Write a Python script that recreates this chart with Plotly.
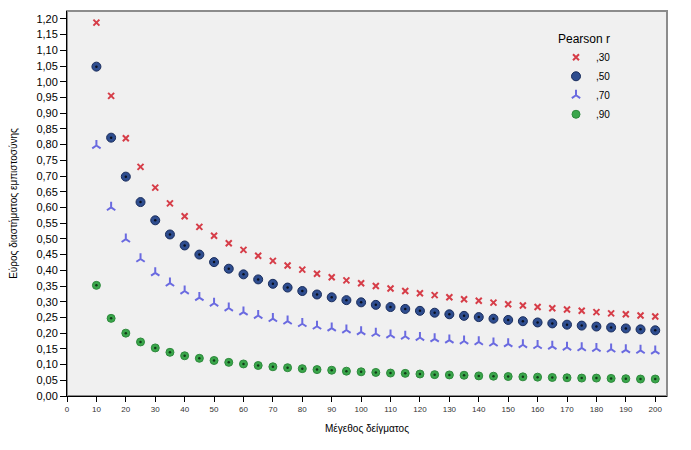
import plotly.graph_objects as go

sample_size = [10, 15, 20, 25, 30, 35, 40, 45, 50, 55, 60, 65, 70, 75, 80, 85, 90, 95, 100,
               105, 110, 115, 120, 125, 130, 135, 140, 145, 150, 155, 160, 165, 170, 175,
               180, 185, 190, 195, 200]

width_r30 = [1.188, 0.955, 0.820, 0.729, 0.663, 0.613, 0.572, 0.538, 0.510, 0.486, 0.465,
             0.446, 0.430, 0.415, 0.402, 0.389, 0.378, 0.368, 0.359, 0.350, 0.342, 0.334,
             0.327, 0.321, 0.314, 0.308, 0.303, 0.297, 0.292, 0.288, 0.283, 0.279, 0.275,
             0.271, 0.267, 0.263, 0.260, 0.256, 0.253]
width_r50 = [1.048, 0.822, 0.698, 0.617, 0.559, 0.514, 0.479, 0.450, 0.426, 0.405, 0.387,
             0.371, 0.357, 0.345, 0.334, 0.323, 0.314, 0.305, 0.298, 0.290, 0.283, 0.277,
             0.271, 0.265, 0.260, 0.255, 0.251, 0.246, 0.242, 0.238, 0.234, 0.231, 0.227,
             0.224, 0.221, 0.218, 0.215, 0.212, 0.209]
width_r70 = [0.797, 0.600, 0.499, 0.436, 0.392, 0.359, 0.334, 0.313, 0.295, 0.280, 0.267,
             0.256, 0.246, 0.238, 0.230, 0.222, 0.216, 0.210, 0.204, 0.199, 0.194, 0.190,
             0.186, 0.182, 0.178, 0.175, 0.172, 0.168, 0.166, 0.163, 0.160, 0.158, 0.155,
             0.153, 0.151, 0.149, 0.147, 0.145, 0.143]
width_r90 = [0.352, 0.247, 0.200, 0.172, 0.153, 0.139, 0.128, 0.120, 0.113, 0.107, 0.102,
             0.097, 0.093, 0.090, 0.087, 0.084, 0.082, 0.079, 0.077, 0.075, 0.073, 0.072,
             0.070, 0.068, 0.067, 0.066, 0.064, 0.063, 0.062, 0.061, 0.060, 0.059, 0.058,
             0.057, 0.057, 0.056, 0.055, 0.054, 0.054]

series_names = [",30", ",50", ",70", ",90"]
x_ticks = list(range(0, 201, 10))
y_ticks = [i * 0.05 for i in range(25)]

FONT = "Liberation Sans, Arial, sans-serif"

fig = go.Figure()
fig.add_trace(go.Scatter(
    x=sample_size, y=width_r30, mode="markers", name=series_names[0],
    marker=dict(symbol="x-thin", size=6, color="#d63d48",
                line=dict(color="#d63d48", width=2))))
fig.add_trace(go.Scatter(
    x=sample_size, y=width_r50, mode="markers", name=series_names[1],
    marker=dict(symbol="circle", size=9, color="#2e4d8f",
                line=dict(color="#1a2d5c", width=1))))
fig.add_trace(go.Scatter(
    x=sample_size, y=width_r50, mode="markers", showlegend=False, hoverinfo="skip",
    marker=dict(symbol="circle", size=2.5, color="#0a0f1e", line=dict(width=0))))
fig.add_trace(go.Scatter(
    x=sample_size, y=width_r70, mode="markers", name=series_names[2],
    marker=dict(symbol="y-up", size=7, color="#6a6ae0",
                line=dict(color="#6a6ae0", width=2))))
fig.add_trace(go.Scatter(
    x=sample_size, y=width_r90, mode="markers", name=series_names[3],
    marker=dict(symbol="circle", size=8, color="#3aa64b",
                line=dict(color="#2f8a3d", width=1))))
fig.add_trace(go.Scatter(
    x=sample_size, y=width_r90, mode="markers", showlegend=False, hoverinfo="skip",
    marker=dict(symbol="circle", size=2.5, color="#123a18", line=dict(width=0))))

fig.update_layout(
    width=683, height=442,
    margin=dict(l=59, r=24, t=3, b=54),
    paper_bgcolor="white",
    plot_bgcolor="#f0f0f0",
    separators=", ",
    font=dict(family=FONT, size=11, color="#000000"),
    showlegend=True,
    legend=dict(
        title=dict(text="Pearson r", font=dict(size=12), side="top"),
        x=0.815, y=0.958, xanchor="left", yanchor="top",
        bgcolor="rgba(0,0,0,0)", font=dict(size=10),
        itemwidth=30, tracegroupgap=0,
    ),
    shapes=[dict(type="rect", xref="paper", yref="paper", x0=0, y0=0, x1=1, y1=1,
                 line=dict(color="#8c8c8c", width=2), layer="below")],
)

fig.update_xaxes(
    range=[0, 204], tickvals=x_ticks, ticktext=[str(v) for v in x_ticks],
    automargin=False,
    showgrid=False, zeroline=False, showline=True, linecolor="black", linewidth=1,
    ticks="outside", ticklen=5, tickcolor="black",
    tickfont=dict(size=8, color="#333333"),
    title=dict(text="Μέγεθος δείγματος", font=dict(size=10), standoff=12),
)
fig.update_yaxes(
    range=[0, 1.225], tickvals=y_ticks, tickformat=".2f",
    automargin=False,
    showgrid=False, zeroline=False, showline=True, linecolor="black", linewidth=1,
    ticks="outside", ticklen=6, tickcolor="black",
    tickfont=dict(size=11, color="#000000"),
    title=dict(text="Εύρος διαστήματος εμπιστοσύνης", font=dict(size=10), standoff=18),
)

fig.write_html("out.html")
